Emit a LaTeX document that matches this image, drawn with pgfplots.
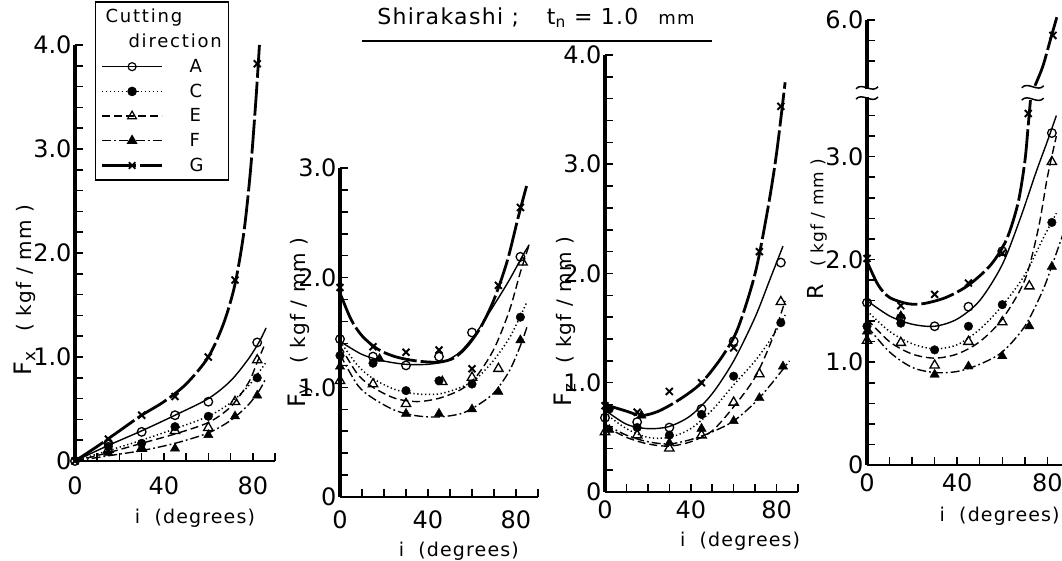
\documentclass[border=0pt]{standalone}
\usepackage{pgfplots}
\pgfplotsset{compat=1.18}
\usepackage{fontspec}
\setmainfont{DejaVu Sans}
\newfontfamily\lsp[LetterSpace=6]{DejaVu Sans}
\newfontfamily\lspw[LetterSpace=10]{DejaVu Sans}

\newcommand\tfont{\fontsize{24}{24}\selectfont}
\newcommand\lfont{\lsp\fontsize{19}{19}\selectfont}
\newcommand\ylab[1]{{\fontsize{24}{24}\selectfont F\textsubscript{#1}}\hspace{20pt}{\lsp\fontsize{20}{20}\selectfont ( kgf / mm )}}

\pgfplotsset{
  cA/.style={black, line width=1.4pt},
  cC/.style={black, line width=1.5pt, dash pattern=on 1.3pt off 2.6pt},
  cE/.style={black, line width=1.4pt, dash pattern=on 8pt off 4pt},
  cF/.style={black, line width=1.4pt, dash pattern=on 9pt off 3pt on 1.8pt off 3pt},
  cG/.style={black, line width=2.8pt, dash pattern=on 34pt off 4pt},
  mA/.style={black, only marks, mark=o, mark size=4.3pt, mark options={solid, line width=1.3pt, fill=white}},
  mC/.style={black, only marks, mark=*, mark size=4.3pt, mark options={solid}},
  mE/.style={black, only marks, mark=triangle, mark size=5.4pt, mark options={solid, line width=1.3pt, fill=white}},
  mF/.style={black, only marks, mark=triangle*, mark size=5.4pt, mark options={solid}},
  mG/.style={black, only marks, mark=x, mark size=4.9pt, mark options={solid, line width=1.9pt}},
  panel/.style={
    scale only axis, axis lines=left,
    x axis line style={-, line width=2.8pt},
    y axis line style={-, line width=3.8pt},
    xmin=0, xmax=90, ymin=0,
    tick align=inside, major tick length=8pt, minor tick length=8pt,
    every tick/.style={black, line width=1.5pt},
    every minor tick/.style={black, line width=1.5pt},
    xtick={0,40,80}, xticklabels={0,40,80},
    minor xtick={10,20,30,50,60,70,90},
    tick label style={font=\tfont},
    clip=false, anchor=south west,
  },
}
\newcommand\brk[1]{\draw[line width=1.5pt] (#1) ++(-11pt,-1pt) .. controls +(6pt,7pt) and +(-6pt,-7pt) .. ++(22pt,2pt);}

\begin{document}
\begin{tikzpicture}
\path[use as bounding box] (0,0) rectangle (1062pt,561pt);

% title
\node[font=\lsp\fontsize{22}{22}\selectfont] at (536pt,543pt) {Shirakashi ;\hspace{28pt}t\textsubscript{n} = 1.0\hspace{20pt}{\fontsize{18}{18}\selectfont mm}};
\draw[line width=1.6pt] (362pt,520pt) -- (712pt,520pt);

% ---------- Fx ----------
\begin{axis}[panel, at={(75pt,100pt)}, width=200pt, height=416pt, ymax=4,
  xticklabel style={yshift=-12pt},
  ytick={0,1,2,3,4}, yticklabels={0,1.0,2.0,3.0,4.0}, minor y tick num=4,
  ylabel={\ylab{x}}, ylabel style={at={([xshift=-50pt]axis description cs:0,0.41)}, anchor=center},
  xlabel={\lfont i\ \ (degrees)}, xlabel style={at={([yshift=-57pt]axis description cs:0.6,0)}, anchor=center},
  legend image code/.code={\draw[mark repeat=2,mark phase=2] plot coordinates {(0pt,0pt) (30pt,0pt) (60pt,0pt)};},
  legend cell align=left,
  legend style={at={(axis description cs:0.1,1.105)}, anchor=north west, draw=black, line width=1.4pt,
    font=\lspw\fontsize{18}{18}\selectfont, row sep=6pt, inner xsep=5pt, inner ysep=5pt},
]
\addlegendimage{empty legend}\addlegendentry{\hspace*{-60pt}Cutting}
\addlegendimage{empty legend}\addlegendentry{\hspace*{-37pt}direction}
\addlegendimage{cA, mark=o, mark size=4pt, mark options={solid, line width=1.2pt, fill=white}}\addlegendentry{\hspace{24pt}A\hspace{32pt}}
\addlegendimage{cC, mark=*, mark size=4pt, mark options={solid}}\addlegendentry{\hspace{24pt}C}
\addlegendimage{cE, mark=triangle, mark size=5pt, mark options={solid, line width=1.2pt, fill=white}}\addlegendentry{\hspace{24pt}E}
\addlegendimage{cF, mark=triangle*, mark size=5pt, mark options={solid}}\addlegendentry{\hspace{24pt}F}
\addlegendimage{cG, mark=x, mark size=4.6pt, mark options={solid, line width=1.8pt}}\addlegendentry{\hspace{24pt}G}

\addplot[cA, smooth, forget plot] coordinates {(0,0)(15,0.15)(30,0.29)(45,0.44)(60,0.6)(70,0.77)(78,0.98)(83,1.15)(86,1.28)};
\addplot[cC, smooth, forget plot] coordinates {(0,0)(15,0.1)(30,0.2)(45,0.31)(60,0.43)(70,0.56)(78,0.72)(83,0.86)(86,0.95)};
\addplot[cE, smooth, forget plot] coordinates {(0,0)(15,0.08)(30,0.17)(45,0.26)(60,0.37)(70,0.52)(78,0.75)(82,0.95)(85,1.1)};
\addplot[cF, smooth, forget plot] coordinates {(0,0)(15,0.05)(30,0.1)(45,0.17)(60,0.27)(70,0.39)(78,0.54)(83,0.68)(86,0.8)};
\addplot[cG, smooth, forget plot] coordinates {(0,0)(10,0.14)(20,0.29)(30,0.44)(40,0.57)(50,0.74)(60,1.0)(67,1.33)(72,1.7)(76,2.2)(79,2.8)(81.5,3.5)(83,4.0)};
\addplot[mA, forget plot] coordinates {(0,0)(15,0.17)(30,0.28)(45,0.44)(60,0.57)(82,1.14)};
\addplot[mC, forget plot] coordinates {(15,0.14)(30,0.17)(45,0.33)(60,0.43)(82,0.80)};
\addplot[mE, forget plot] coordinates {(15,0.11)(30,0.12)(45,0.29)(60,0.32)(72,0.57)(82,0.97)};
\addplot[mF, forget plot] coordinates {(15,0.08)(30,0.12)(45,0.12)(60,0.25)(72,0.43)(82,0.63)};
\addplot[mG, forget plot] coordinates {(0,0)(15,0.21)(30,0.44)(45,0.62)(60,1.0)(72,1.74)(82,3.82)};
\end{axis}

% ---------- Fy ----------
\begin{axis}[panel, at={(340pt,64pt)}, width=198pt, height=329pt, ymax=3,
  xticklabel style={yshift=-10pt},
  ytick={0,1,2,3}, yticklabels={0,1.0,2.0,3.0}, minor y tick num=4,
  ylabel={\ylab{y}}, ylabel style={at={([xshift=-40pt]axis description cs:0,0.53)}, anchor=center},
  xlabel={\lfont i\ \ (degrees)}, xlabel style={at={([yshift=-54pt]axis description cs:0.6,0)}, anchor=center},
]
\addplot[cA, smooth] coordinates {(0,1.42)(10,1.3)(20,1.24)(30,1.21)(40,1.21)(48,1.24)(55,1.33)(62,1.5)(70,1.75)(77,1.98)(83,2.2)(86,2.3)};
\addplot[cC, smooth] coordinates {(0,1.42)(8,1.2)(15,1.08)(25,0.98)(35,0.94)(45,0.94)(55,1.0)(62,1.08)(70,1.25)(77,1.45)(82,1.65)(85,1.78)};
\addplot[cE, smooth] coordinates {(0,1.38)(8,1.12)(15,1.0)(25,0.9)(35,0.87)(45,0.9)(55,0.98)(62,1.1)(70,1.35)(77,1.7)(82,2.05)(86,2.3)};
\addplot[cF, smooth] coordinates {(0,1.3)(8,1.02)(15,0.9)(25,0.79)(35,0.74)(45,0.73)(55,0.76)(62,0.83)(70,0.95)(77,1.15)(82,1.38)(85,1.55)};
\addplot[cG, smooth] coordinates {(0,1.86)(5,1.62)(10,1.47)(17,1.35)(25,1.28)(35,1.24)(45,1.23)(52,1.27)(58,1.38)(64,1.55)(70,1.8)(76,2.15)(81,2.55)(85,2.85)};
\addplot[mA] coordinates {(0,1.44)(15,1.28)(30,1.2)(45,1.28)(60,1.5)(82,2.19)};
\addplot[mC] coordinates {(0,1.29)(15,1.22)(30,0.97)(45,1.06)(60,1.03)(82,1.64)};
\addplot[mE] coordinates {(0,1.06)(15,1.03)(30,0.85)(46.5,1.05)(60,1.09)(72,1.17)(83,2.14)};
\addplot[mF] coordinates {(0,1.19)(18,1.26)(30,0.76)(45,0.76)(60,0.8)(72,0.96)(82,1.43)};
\addplot[mG] coordinates {(0,1.91)(15,1.37)(30,1.32)(45,1.34)(60,1.17)(72,1.93)(82,2.64)};
\end{axis}

% ---------- Fz ----------
\begin{axis}[panel, at={(605pt,69pt)}, width=193pt, height=437pt, ymax=4,
  xticklabel style={yshift=-5pt},
  ytick={0,1,2,3,4}, yticklabels={0,1.0,2.0,3.0,4.0}, minor y tick num=4,
  ylabel={\ylab{z}}, ylabel style={at={([xshift=-40pt]axis description cs:0,0.39)}, anchor=center},
  xlabel={\lfont i\ \ (degrees)}, xlabel style={at={([yshift=-49pt]axis description cs:0.7,0)}, anchor=center},
]
\addplot[cA, smooth] coordinates {(0,0.75)(10,0.62)(20,0.58)(30,0.6)(40,0.7)(50,0.9)(60,1.2)(70,1.6)(77,1.95)(83,2.25)};
\addplot[cC, smooth] coordinates {(0,0.72)(10,0.58)(20,0.5)(30,0.5)(40,0.58)(50,0.75)(60,0.98)(70,1.2)(78,1.42)(84,1.62)};
\addplot[cE, smooth] coordinates {(0,0.6)(10,0.5)(20,0.44)(30,0.42)(40,0.46)(50,0.56)(60,0.78)(70,1.05)(78,1.4)(84,1.75)};
\addplot[cF, smooth] coordinates {(0,0.62)(10,0.52)(20,0.46)(30,0.44)(40,0.48)(50,0.55)(60,0.65)(70,0.82)(78,1.0)(86,1.2)};
\addplot[cG, smooth] coordinates {(0,0.8)(10,0.74)(17,0.7)(25,0.74)(35,0.85)(45,1.0)(55,1.25)(62,1.5)(70,2.0)(76,2.6)(80,3.1)(84,3.75)};
\addplot[mA] coordinates {(0,0.68)(15,0.64)(30,0.59)(45,0.76)(60,1.38)(82,2.1)};
\addplot[mC] coordinates {(2,0.76)(15,0.59)(30,0.52)(45,0.71)(60,1.06)(82,1.55)};
\addplot[mE] coordinates {(0,0.55)(15,0.52)(30,0.40)(45,0.52)(60,0.82)(72,1.08)(82,1.74)};
\addplot[mF] coordinates {(2,0.57)(17,0.70)(30,0.45)(45,0.58)(60,0.65)(72,0.86)(83,1.15)};
\addplot[mG] coordinates {(0,0.79)(15,0.73)(30,0.92)(45,1.0)(60,1.32)(72,2.2)(82,3.53)};
\end{axis}

% ---------- R (broken axis: values above the break are drawn 1.67 lower) ----------
\begin{axis}[panel, at={(867pt,96pt)}, width=195pt, height=445pt, xmax=86.5, ymax=4.33,
  xticklabel style={yshift=-5pt},
  minor xtick={10,20,30,50,60,70},
  ytick={0,1,2,3,4.33}, yticklabels={0,1.0,2.0,3.0,6.0},
  minor ytick={0.2,0.4,0.6,0.8,1.2,1.4,1.6,1.8,2.2,2.4,2.6,2.8,3.2,3.4,3.93,4.13},
  ylabel={{\fontsize{22}{22}\selectfont R}\hspace{18pt}{\lsp\fontsize{17}{17}\selectfont ( kgf / mm )}},
  ylabel style={at={([xshift=-50pt]axis description cs:0,0.53)}, anchor=center},
  xlabel={\lfont i\ \ (degrees)}, xlabel style={at={([yshift=-51pt]axis description cs:0.68,0)}, anchor=center},
]
\addplot[cA, smooth] coordinates {(0,1.6)(10,1.45)(20,1.37)(30,1.35)(40,1.42)(50,1.6)(60,1.95)(68,2.4)(75,2.85)(80,3.15)(84,3.4)};
\addplot[cC, smooth] coordinates {(0,1.5)(10,1.3)(20,1.18)(30,1.13)(40,1.17)(50,1.32)(60,1.55)(70,1.85)(78,2.2)(84,2.45)};
\addplot[cE, smooth] coordinates {(0,1.42)(10,1.2)(20,1.08)(30,1.04)(40,1.08)(50,1.2)(60,1.42)(70,1.8)(76,2.3)(80,2.8)(84,3.2)};
\addplot[cF, smooth] coordinates {(0,1.35)(10,1.1)(20,0.95)(30,0.9)(40,0.91)(50,0.98)(60,1.1)(70,1.35)(78,1.7)(83,2.0)(87,2.25)};
\addplot[cG, smooth] coordinates {(0,1.98)(5,1.75)(10,1.63)(18,1.57)(25,1.57)(35,1.63)(45,1.75)(55,1.95)(62,2.2)(67,2.55)(70,2.95)(71.5,3.3)(72.5,3.55)};
\addplot[cG, smooth] table[row sep=\\, y expr=\thisrow{y}-1.67] {x y\\ 74.5 5.36\\ 78 5.55\\ 81.5 5.82\\ 84.5 6.05\\};
\addplot[mA] coordinates {(0,1.58)(15,1.43)(30,1.35)(45,1.54)(60,2.08)(82,3.23)};
\addplot[mC] coordinates {(0,1.35)(15,1.38)(30,1.12)(45,1.35)(60,1.56)(82,2.36)};
\addplot[mE] coordinates {(0,1.21)(15,1.19)(30,0.97)(45,1.2)(60,1.39)(72,1.74)(82,2.95)};
\addplot[mF] coordinates {(0,1.3)(15,1.45)(30,0.88)(45,0.96)(60,1.06)(72,1.35)(82,1.93)};
\addplot[mG] coordinates {(0,2.01)(15,1.55)(30,1.66)(45,1.77)(60,2.06)(71.5,3.42)};
\addplot[mG] table[row sep=\\, y expr=\thisrow{y}-1.67] {x y\\ 82.5 5.85\\};
\fill[white] (axis cs:-3,3.58) rectangle (axis cs:3,3.66);
\brk{axis cs:0,3.57}
\brk{axis cs:0,3.67}
\brk{axis cs:73.5,3.56}
\brk{axis cs:73.5,3.68}
\end{axis}
\end{tikzpicture}
\end{document}
